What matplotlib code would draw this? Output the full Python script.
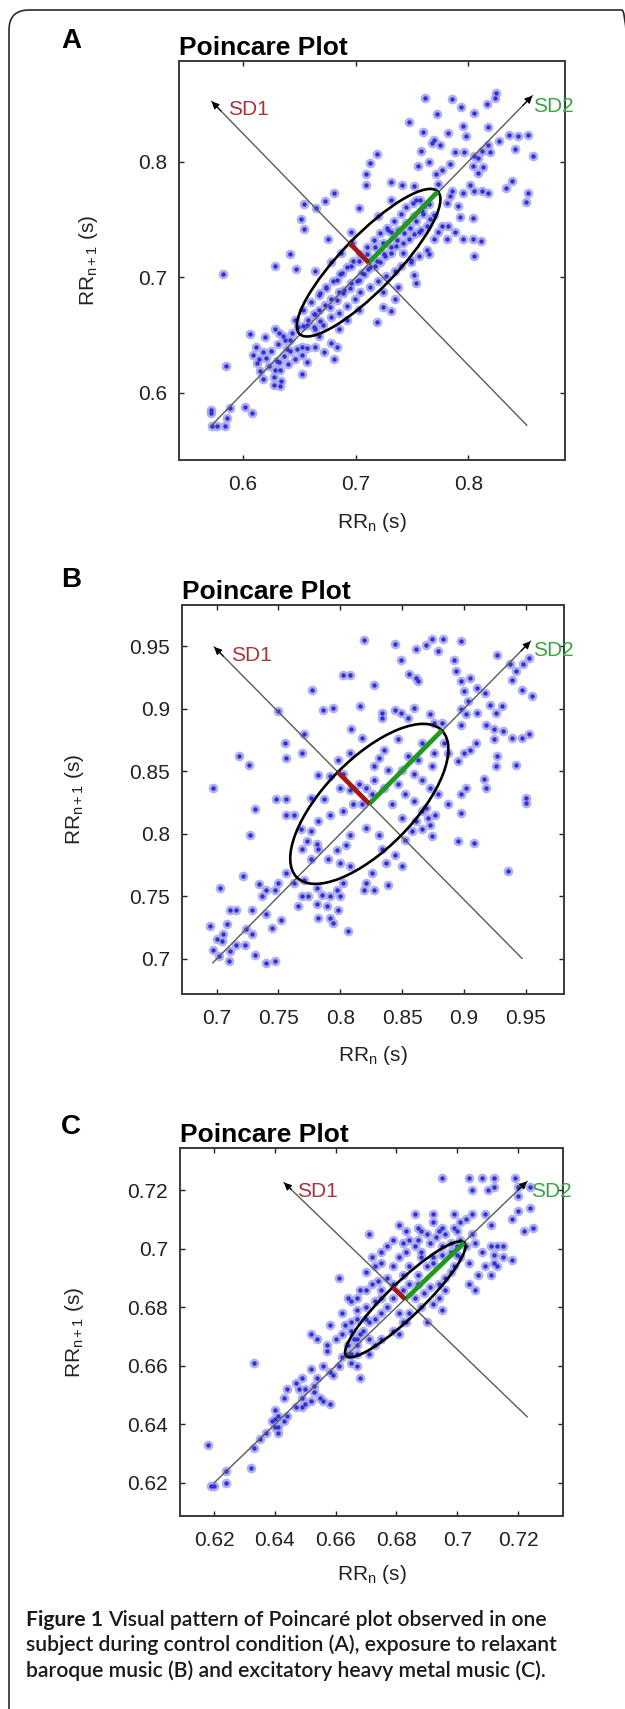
import numpy as np
import matplotlib

matplotlib.use("Agg")
import matplotlib.pyplot as plt
from matplotlib.patches import Ellipse, FancyBboxPatch
from matplotlib.transforms import IdentityTransform

plt.rcParams.update(
    {
        "font.family": "Liberation Sans",
        "mathtext.fontset": "custom",
        "mathtext.rm": "Liberation Sans",
        "mathtext.it": "Liberation Sans:italic",
        "mathtext.bf": "Liberation Sans:bold",
        "mathtext.default": "regular",
    }
)

W, H = 625, 1709
INK = "#222222"
LINE = "#5a5a5a"
HALO = "#a8a8f0"
DOT = "#3030d4"
GREEN = "#1f9a1f"
RED = "#a01a1a"
SD1_TXT = "#a8343c"
SD2_TXT = "#3aa443"

# ---- panel A (control) ----
a_points = np.array([
    (0.762, 0.855), (0.786, 0.854), (0.794, 0.847), (0.805, 0.842), (0.817, 0.850),
    (0.824, 0.855), (0.825, 0.859), (0.772, 0.841), (0.747, 0.834), (0.795, 0.831),
    (0.818, 0.830), (0.760, 0.826), (0.782, 0.825), (0.770, 0.819), (0.798, 0.822),
    (0.836, 0.823), (0.844, 0.822), (0.853, 0.823), (0.827, 0.818), (0.818, 0.814),
    (0.812, 0.809), (0.805, 0.805), (0.758, 0.809), (0.768, 0.816), (0.775, 0.814),
    (0.788, 0.808), (0.796, 0.808), (0.809, 0.803), (0.819, 0.808), (0.842, 0.811),
    (0.858, 0.805), (0.719, 0.807), (0.713, 0.799), (0.755, 0.796), (0.765, 0.800),
    (0.777, 0.793), (0.771, 0.789), (0.784, 0.798), (0.804, 0.796), (0.813, 0.795),
    (0.809, 0.790), (0.839, 0.783), (0.834, 0.777), (0.853, 0.773), (0.851, 0.765),
    (0.709, 0.789), (0.709, 0.780), (0.731, 0.782), (0.741, 0.780), (0.752, 0.779),
    (0.773, 0.781), (0.786, 0.775), (0.795, 0.773), (0.802, 0.780), (0.805, 0.775),
    (0.812, 0.775), (0.818, 0.773), (0.681, 0.773), (0.673, 0.766), (0.654, 0.763),
    (0.665, 0.760), (0.703, 0.760), (0.731, 0.767), (0.754, 0.767), (0.761, 0.762),
    (0.781, 0.764), (0.793, 0.752), (0.804, 0.751), (0.795, 0.733), (0.804, 0.733),
    (0.811, 0.731), (0.805, 0.718), (0.752, 0.702), (0.754, 0.695), (0.742, 0.721),
    (0.749, 0.715), (0.756, 0.739), (0.651, 0.750), (0.654, 0.742), (0.675, 0.733),
    (0.628, 0.710), (0.642, 0.720), (0.582, 0.703), (0.647, 0.707), (0.664, 0.705),
    (0.719, 0.661), (0.731, 0.671), (0.606, 0.651), (0.619, 0.648), (0.628, 0.655),
    (0.632, 0.652), (0.635, 0.649), (0.639, 0.638), (0.652, 0.640), (0.664, 0.640),
    (0.672, 0.635), (0.678, 0.643), (0.683, 0.640), (0.681, 0.629), (0.657, 0.627),
    (0.652, 0.616), (0.632, 0.627), (0.628, 0.620), (0.634, 0.610), (0.627, 0.607),
    (0.614, 0.629), (0.618, 0.635), (0.611, 0.640), (0.585, 0.623), (0.602, 0.588),
    (0.608, 0.583), (0.588, 0.587), (0.571, 0.585), (0.571, 0.583), (0.586, 0.578),
    (0.572, 0.571), (0.577, 0.571), (0.584, 0.571),
    (0.653, 0.658), (0.658, 0.663), (0.664, 0.668), (0.667, 0.672), (0.673, 0.676),
    (0.678, 0.681), (0.685, 0.687), (0.690, 0.689), (0.696, 0.695), (0.703, 0.698),
    (0.706, 0.704), (0.711, 0.707), (0.717, 0.710), (0.722, 0.713), (0.726, 0.718),
    (0.731, 0.721), (0.736, 0.727), (0.742, 0.730), (0.747, 0.733), (0.752, 0.737),
    (0.758, 0.741), (0.763, 0.744), (0.766, 0.750), (0.770, 0.754),
    (0.664, 0.655), (0.671, 0.659), (0.678, 0.666), (0.685, 0.669), (0.692, 0.675),
    (0.699, 0.681), (0.704, 0.687), (0.713, 0.692), (0.720, 0.697), (0.727, 0.701),
    (0.735, 0.705), (0.740, 0.710), (0.749, 0.713), (0.756, 0.718), (0.763, 0.724),
    (0.770, 0.733), (0.773, 0.739), (0.777, 0.744),
    (0.646, 0.663), (0.653, 0.672), (0.660, 0.679), (0.667, 0.685), (0.674, 0.692),
    (0.683, 0.698), (0.688, 0.704), (0.696, 0.710), (0.703, 0.714), (0.710, 0.720),
    (0.717, 0.726), (0.724, 0.730), (0.731, 0.739), (0.738, 0.741), (0.745, 0.747),
    (0.752, 0.753), (0.759, 0.757), (0.765, 0.763),
    (0.692, 0.663), (0.703, 0.672), (0.724, 0.687), (0.738, 0.692), (0.685, 0.655),
    (0.667, 0.649), (0.642, 0.646), (0.648, 0.638), (0.784, 0.770), (0.791, 0.762),
    (0.782, 0.744), (0.788, 0.739), (0.781, 0.733), (0.765, 0.720), (0.735, 0.681),
    (0.724, 0.674), (0.696, 0.739), (0.697, 0.730), (0.687, 0.721), (0.678, 0.713),
    (0.720, 0.753), (0.729, 0.741),
    (0.612, 0.626), (0.620, 0.630), (0.625, 0.636), (0.631, 0.642), (0.637, 0.646),
    (0.643, 0.652), (0.649, 0.657), (0.615, 0.619), (0.623, 0.623), (0.630, 0.628),
    (0.636, 0.632), (0.642, 0.636), (0.618, 0.612), (0.627, 0.614), (0.633, 0.620),
    (0.640, 0.625), (0.646, 0.629), (0.652, 0.633), (0.657, 0.639), (0.609, 0.633),
    (0.633, 0.606),
    (0.668, 0.686), (0.674, 0.691), (0.680, 0.697), (0.686, 0.703), (0.692, 0.709),
    (0.698, 0.714), (0.704, 0.720), (0.710, 0.726), (0.716, 0.732), (0.722, 0.738),
    (0.728, 0.743), (0.734, 0.749), (0.740, 0.755), (0.745, 0.761), (0.751, 0.764),
    (0.757, 0.767), (0.677, 0.674), (0.683, 0.680), (0.689, 0.686), (0.695, 0.691),
    (0.701, 0.697), (0.707, 0.703), (0.713, 0.709), (0.719, 0.714), (0.725, 0.720),
    (0.731, 0.726), (0.737, 0.732), (0.743, 0.738), (0.748, 0.743), (0.754, 0.749),
    (0.760, 0.755), (0.663, 0.668), (0.668, 0.662), (0.657, 0.659), (0.663, 0.657),
])
a_center = (0.7115, 0.7126)
a_sd1, a_sd2 = 0.024, 0.087
a_diag = (0.571, 0.857)
a_perp = (0.572, 0.852)

# ---- panel B (baroque music) ----
b_points = np.array([
    (0.819, 0.955), (0.844, 0.952), (0.861, 0.948), (0.869, 0.951), (0.874, 0.956),
    (0.883, 0.956), (0.879, 0.946), (0.898, 0.954), (0.849, 0.939), (0.827, 0.919),
    (0.802, 0.927), (0.808, 0.927), (0.856, 0.928), (0.861, 0.925), (0.863, 0.922),
    (0.892, 0.939), (0.894, 0.930), (0.898, 0.922), (0.905, 0.925), (0.900, 0.914),
    (0.903, 0.906), (0.898, 0.900), (0.911, 0.917), (0.917, 0.913), (0.927, 0.943),
    (0.937, 0.936), (0.942, 0.930), (0.947, 0.915), (0.955, 0.910), (0.953, 0.941),
    (0.948, 0.936), (0.939, 0.923), (0.777, 0.915), (0.786, 0.899), (0.794, 0.901),
    (0.750, 0.898), (0.816, 0.902), (0.834, 0.897), (0.844, 0.899), (0.849, 0.897),
    (0.834, 0.893), (0.855, 0.893), (0.860, 0.901), (0.873, 0.896), (0.876, 0.889),
    (0.882, 0.889), (0.898, 0.887), (0.902, 0.896), (0.911, 0.897), (0.921, 0.903),
    (0.926, 0.897), (0.931, 0.902), (0.918, 0.887), (0.924, 0.884), (0.932, 0.882),
    (0.939, 0.877), (0.947, 0.877), (0.953, 0.880), (0.924, 0.876), (0.927, 0.862),
    (0.926, 0.854), (0.942, 0.855), (0.910, 0.873), (0.905, 0.867), (0.900, 0.865),
    (0.895, 0.858), (0.902, 0.837), (0.916, 0.844), (0.918, 0.837), (0.898, 0.832),
    (0.898, 0.817), (0.908, 0.793), (0.895, 0.794), (0.874, 0.798), (0.950, 0.829),
    (0.950, 0.825), (0.936, 0.770), (0.809, 0.884), (0.818, 0.877), (0.847, 0.876),
    (0.866, 0.873), (0.876, 0.865), (0.884, 0.873), (0.887, 0.865), (0.863, 0.859),
    (0.874, 0.854), (0.855, 0.862), (0.835, 0.867), (0.831, 0.861), (0.827, 0.854),
    (0.839, 0.851), (0.850, 0.851), (0.860, 0.848), (0.866, 0.843), (0.873, 0.837),
    (0.879, 0.832), (0.887, 0.824), (0.866, 0.818), (0.860, 0.826), (0.852, 0.832),
    (0.847, 0.840), (0.835, 0.837), (0.827, 0.843), (0.842, 0.824), (0.850, 0.813),
    (0.861, 0.810), (0.858, 0.802), (0.871, 0.813), (0.866, 0.804), (0.873, 0.807),
    (0.877, 0.815), (0.869, 0.821),
    (0.771, 0.880), (0.755, 0.873), (0.756, 0.861), (0.769, 0.865), (0.718, 0.862),
    (0.726, 0.855), (0.808, 0.865), (0.798, 0.859), (0.792, 0.846), (0.782, 0.847),
    (0.802, 0.848), (0.815, 0.840), (0.808, 0.835), (0.800, 0.837), (0.821, 0.837),
    (0.826, 0.832), (0.818, 0.824), (0.810, 0.824), (0.802, 0.818), (0.787, 0.828),
    (0.776, 0.829), (0.792, 0.815), (0.756, 0.828), (0.748, 0.828), (0.731, 0.820),
    (0.727, 0.799), (0.697, 0.837), (0.756, 0.815), (0.763, 0.815), (0.768, 0.804),
    (0.773, 0.794), (0.782, 0.810), (0.776, 0.802), (0.781, 0.792), (0.769, 0.788),
    (0.776, 0.780), (0.782, 0.788), (0.790, 0.780), (0.797, 0.787), (0.805, 0.791),
    (0.800, 0.777), (0.808, 0.799), (0.821, 0.805), (0.831, 0.799), (0.834, 0.788),
    (0.837, 0.777), (0.844, 0.783), (0.850, 0.774), (0.852, 0.795), (0.826, 0.769),
    (0.808, 0.774), (0.821, 0.761), (0.827, 0.755), (0.839, 0.759), (0.819, 0.755),
    (0.802, 0.761), (0.797, 0.755), (0.792, 0.750), (0.785, 0.751), (0.781, 0.757),
    (0.774, 0.750), (0.771, 0.763), (0.763, 0.761), (0.756, 0.769), (0.750, 0.761),
    (0.747, 0.755), (0.740, 0.755), (0.737, 0.750), (0.721, 0.766), (0.703, 0.757),
    (0.711, 0.739), (0.716, 0.739), (0.695, 0.726), (0.704, 0.714), (0.711, 0.706),
    (0.700, 0.716), (0.697, 0.707), (0.702, 0.702), (0.710, 0.698), (0.716, 0.711),
    (0.724, 0.724), (0.729, 0.720), (0.729, 0.739), (0.734, 0.760), (0.740, 0.736),
    (0.745, 0.725), (0.752, 0.731), (0.769, 0.750), (0.766, 0.742), (0.781, 0.744),
    (0.789, 0.742), (0.792, 0.733), (0.798, 0.739), (0.806, 0.722), (0.800, 0.750),
    (0.782, 0.733), (0.794, 0.729), (0.747, 0.698), (0.740, 0.697), (0.731, 0.703),
    (0.723, 0.711), (0.705, 0.720), (0.708, 0.728),
])
b_center = (0.8235, 0.824)
b_sd1, b_sd2 = 0.036, 0.083
b_diag = (0.697, 0.954)
b_perp = (0.698, 0.947)

# ---- panel C (heavy metal music) ----
c_points = np.array([
    (0.695, 0.724), (0.704, 0.724), (0.708, 0.724), (0.712, 0.724), (0.719, 0.724),
    (0.720, 0.721), (0.724, 0.721), (0.712, 0.721), (0.710, 0.720), (0.705, 0.720),
    (0.720, 0.718), (0.720, 0.713), (0.724, 0.714), (0.725, 0.707), (0.722, 0.706),
    (0.718, 0.710), (0.709, 0.712), (0.711, 0.708), (0.705, 0.712), (0.703, 0.710),
    (0.701, 0.709), (0.699, 0.707), (0.695, 0.707), (0.692, 0.709), (0.687, 0.707),
    (0.681, 0.708), (0.686, 0.712), (0.692, 0.712), (0.699, 0.712), (0.671, 0.705),
    (0.696, 0.705), (0.693, 0.704), (0.690, 0.705), (0.687, 0.703), (0.684, 0.703),
    (0.682, 0.702), (0.686, 0.701), (0.683, 0.699), (0.688, 0.699), (0.698, 0.702),
    (0.701, 0.703), (0.703, 0.701), (0.706, 0.702), (0.708, 0.699), (0.711, 0.701),
    (0.713, 0.701), (0.712, 0.698), (0.715, 0.701), (0.718, 0.696), (0.712, 0.695),
    (0.709, 0.694), (0.707, 0.691), (0.704, 0.688), (0.706, 0.686), (0.711, 0.691),
    (0.715, 0.697), (0.713, 0.694), (0.701, 0.697), (0.699, 0.694), (0.698, 0.692),
    (0.696, 0.690), (0.694, 0.688), (0.691, 0.687), (0.689, 0.685), (0.686, 0.683),
    (0.696, 0.686), (0.694, 0.683), (0.692, 0.681), (0.688, 0.680), (0.695, 0.679),
    (0.679, 0.703), (0.677, 0.701), (0.675, 0.699), (0.672, 0.697), (0.675, 0.695),
    (0.673, 0.694), (0.670, 0.692), (0.679, 0.694), (0.681, 0.697), (0.677, 0.690),
    (0.674, 0.689), (0.672, 0.688), (0.670, 0.686), (0.668, 0.686), (0.667, 0.683),
    (0.665, 0.682), (0.675, 0.683), (0.677, 0.680), (0.679, 0.683), (0.681, 0.678),
    (0.682, 0.675), (0.684, 0.678), (0.675, 0.678), (0.673, 0.676), (0.670, 0.676),
    (0.667, 0.676), (0.665, 0.675), (0.658, 0.674), (0.663, 0.674), (0.668, 0.671),
    (0.671, 0.669), (0.673, 0.667), (0.675, 0.669), (0.679, 0.672), (0.681, 0.671),
    (0.683, 0.675), (0.661, 0.690), (0.652, 0.671), (0.654, 0.669), (0.657, 0.667),
    (0.657, 0.665), (0.660, 0.669), (0.656, 0.660), (0.658, 0.658), (0.652, 0.659),
    (0.649, 0.656), (0.647, 0.654), (0.648, 0.652), (0.650, 0.652), (0.653, 0.651),
    (0.655, 0.649), (0.656, 0.648), (0.658, 0.647), (0.652, 0.648), (0.650, 0.647),
    (0.649, 0.646), (0.644, 0.652), (0.643, 0.649), (0.640, 0.645), (0.641, 0.643),
    (0.644, 0.643), (0.643, 0.641), (0.640, 0.642), (0.641, 0.639), (0.639, 0.641),
    (0.637, 0.637), (0.635, 0.635), (0.633, 0.632), (0.633, 0.661), (0.618, 0.633),
    (0.619, 0.619), (0.620, 0.619), (0.624, 0.624), (0.624, 0.620), (0.632, 0.625),
    (0.662, 0.663), (0.665, 0.661), (0.667, 0.660), (0.668, 0.656), (0.665, 0.664),
    (0.667, 0.667), (0.671, 0.664), (0.664, 0.667), (0.667, 0.664), (0.662, 0.671),
    (0.662, 0.678), (0.664, 0.683), (0.690, 0.675), (0.666, 0.669), (0.669, 0.672),
    (0.671, 0.675), (0.682, 0.686), (0.684, 0.688), (0.687, 0.691), (0.690, 0.694),
    (0.692, 0.697), (0.695, 0.698), (0.698, 0.699), (0.700, 0.701),
    (0.683, 0.706), (0.688, 0.706), (0.694, 0.706), (0.700, 0.706), (0.705, 0.705),
    (0.691, 0.702), (0.695, 0.701), (0.700, 0.698), (0.704, 0.695), (0.692, 0.695),
    (0.688, 0.697), (0.684, 0.694), (0.682, 0.691), (0.687, 0.688), (0.679, 0.688),
    (0.675, 0.686), (0.673, 0.682), (0.670, 0.680), (0.667, 0.679), (0.665, 0.672),
    (0.667, 0.669), (0.664, 0.664), (0.661, 0.660), (0.659, 0.657), (0.654, 0.656),
    (0.653, 0.653), (0.649, 0.649), (0.647, 0.646), (0.641, 0.637), (0.640, 0.639),
])
c_center = (0.6829, 0.6827)
c_sd1, c_sd2 = 0.0058, 0.0274
c_diag = (0.620, 0.723)
c_perp = (0.643, 0.723)

a_ticks = [0.6, 0.7, 0.8]
a_ticklabels = ["0.6", "0.7", "0.8"]
b_ticks = [0.7, 0.75, 0.8, 0.85, 0.9, 0.95]
b_ticklabels = ["0.7", "0.75", "0.8", "0.85", "0.9", "0.95"]
c_ticks = [0.62, 0.64, 0.66, 0.68, 0.70, 0.72]
c_ticklabels = ["0.62", "0.64", "0.66", "0.68", "0.7", "0.72"]

caption_lines = [
    [("Figure 1 ", "bold"), ("Visual pattern of Poincaré plot observed in one", "semibold")],
    [("subject during control condition (A), exposure to relaxant", "semibold")],
    [("baroque music (B) and excitatory heavy metal music (C).", "semibold")],
]


def px_rect(left, right, top, bottom):
    return [left / W, 1 - bottom / H, (right - left) / W, (bottom - top) / H]


def arrow_line(ax, start, end):
    ax.plot([start[0], end[0]], [start[1], end[1]], color=LINE, lw=1.0, zorder=3)
    tip_from = (end[0] - 0.03 * (end[0] - start[0]), end[1] - 0.03 * (end[1] - start[1]))
    ax.annotate(
        "",
        xy=end,
        xytext=tip_from,
        arrowprops=dict(arrowstyle="-|>,head_length=0.45,head_width=0.22",
                        color="black", lw=0.8, shrinkA=0, shrinkB=0, mutation_scale=10),
        zorder=3,
    )


def draw_panel(ax, pts, center, sd1, sd2, diag, perp, xlim, ylim, ticks, labels,
               sd1_xy, sd2_xy, ylab_x):
    ax.plot(pts[:, 0], pts[:, 1], ls="none", marker="o", ms=7.0, mfc=HALO, mec="none",
            alpha=0.9, zorder=2)
    ax.plot(pts[:, 0], pts[:, 1], ls="none", marker="o", ms=3.2, mfc=DOT, mec="none", zorder=2.1)
    cx, cy = center
    s = cx + cy
    arrow_line(ax, (diag[0], diag[0]), (diag[1], diag[1]))
    arrow_line(ax, (perp[1], s - perp[1]), (perp[0], s - perp[0]))
    ax.add_patch(Ellipse((cx, cy), 2 * sd2, 2 * sd1, angle=45, fill=False,
                         ec="black", lw=1.9, zorder=4))
    u = 1 / np.sqrt(2)
    ax.plot([cx, cx + sd2 * u], [cy, cy + sd2 * u], color=GREEN, lw=3.4,
            solid_capstyle="butt", zorder=5)
    ax.plot([cx, cx - sd1 * u], [cy, cy + sd1 * u], color=RED, lw=3.4,
            solid_capstyle="butt", zorder=5)
    ax.text(*sd1_xy, "SD1", color=SD1_TXT, fontsize=15, ha="left", va="center", zorder=6)
    ax.text(*sd2_xy, "SD2", color=SD2_TXT, fontsize=15, ha="left", va="center", zorder=6,
            clip_on=False)

    ax.set_xlim(*xlim)
    ax.set_ylim(*ylim)
    ax.set_xticks(ticks)
    ax.set_xticklabels(labels)
    ax.set_yticks(ticks)
    ax.set_yticklabels(labels)
    ax.tick_params(axis="both", direction="in", top=True, right=True, length=3.5,
                   width=1.0, labelsize=15, colors=INK)
    ax.tick_params(axis="x", pad=11)
    ax.tick_params(axis="y", pad=8.5)
    for sp in ax.spines.values():
        sp.set_color("#3a3a3a")
        sp.set_linewidth(1.4)
    ax.set_title("Poincare Plot", loc="left", fontsize=19, fontweight="bold", pad=4, color="black")
    ax.set_xlabel("RR$_n$ (s)", fontsize=15, color=INK)
    ax.set_ylabel("RR$_{n+1}$ (s)", fontsize=15, color=INK)
    ax.xaxis.set_label_coords(0.5, -0.128)
    ax.yaxis.set_label_coords(ylab_x, 0.5)


fig = plt.figure(figsize=(W / 100, H / 100), dpi=100)

ax_a = fig.add_axes(px_rect(179, 565, 61, 460))
draw_panel(ax_a, a_points, a_center, a_sd1, a_sd2, a_diag, a_perp,
           (0.543, 0.886), (0.542, 0.887), a_ticks, a_ticklabels,
           (0.5865, 0.845), (0.858, 0.848), -0.205)

ax_b = fig.add_axes(px_rect(182, 564, 605, 994))
draw_panel(ax_b, b_points, b_center, b_sd1, b_sd2, b_diag, b_perp,
           (0.672, 0.981), (0.672, 0.983), b_ticks, b_ticklabels,
           (0.7113, 0.9426), (0.956, 0.9467), -0.251)

ax_c = fig.add_axes(px_rect(180, 563, 1148, 1516))
draw_panel(ax_c, c_points, c_center, c_sd1, c_sd2, c_diag, c_perp,
           (0.6088, 0.7348), (0.6087, 0.7344), c_ticks, c_ticklabels,
           (0.6472, 0.7197), (0.7243, 0.7197), -0.245)

# panel letters
for letter, base in [("A", 48), ("B", 587), ("C", 1134)]:
    fig.text(61 / W, 1 - base / H, letter, fontsize=20, fontweight="bold",
             ha="left", va="baseline", color="black")

# outer rounded frame, running off the right and bottom edges
frame = FancyBboxPatch((9, -60), 633, H - 10 + 60,
                       boxstyle="round,pad=0,rounding_size=20",
                       transform=IdentityTransform(), fill=False,
                       ec="#2a2a2a", lw=1.2)
fig.add_artist(frame)

# caption, sized so the second line spans the text block width
renderer = fig.canvas.get_renderer()
probe = fig.text(0, 0, caption_lines[1][0][0], family="Lato", fontsize=10,
                 fontweight="semibold")
cap_size = 10 * 534 / probe.get_window_extent(renderer=renderer).width
probe.remove()
for baseline, parts in zip([1626, 1651, 1677], caption_lines):
    x = 26
    for txt, weight in parts:
        t = fig.text(x / W, 1 - baseline / H, txt, family="Lato", fontsize=cap_size,
                     fontweight=weight, ha="left", va="baseline", color="#1a1a1a")
        x += t.get_window_extent(renderer=renderer).width

fig.savefig("out.png", dpi=100)
